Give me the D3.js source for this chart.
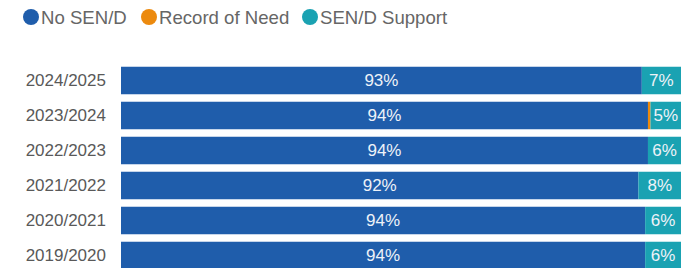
<!DOCTYPE html>
<html>
<head>
<meta charset="utf-8">
<script src="https://cdn.jsdelivr.net/npm/d3@7"></script>
<style>
  html, body { margin: 0; padding: 0; background: #fff; }
  svg { display: block; font-family: "Liberation Sans", Arial, sans-serif; }
</style>
</head>
<body>
<svg id="chart" width="682" height="268"></svg>
<script>
const years = ["2024/2025", "2023/2024", "2022/2023", "2021/2022", "2020/2021", "2019/2020"];
const noSEND = [93.0, 94.1, 94.1, 92.4, 93.6, 93.6];
const recordOfNeed = [0, 0.45, 0, 0, 0, 0];
const sendSupport = [7.0, 5.45, 5.9, 7.6, 6.4, 6.4];
const seriesNames = ["No SEN/D", "Record of Need", "SEN/D Support"];
const seriesColors = ["#1f5dab", "#ec8a0e", "#1aa2b2"];

const table = years.map((y, i) => ({
  year: y, "No SEN/D": noSEND[i], "Record of Need": recordOfNeed[i], "SEN/D Support": sendSupport[i]
}));

const svg = d3.select("#chart");
const W = 682;

const x = d3.scaleLinear().domain([0, 100]).range([121, 681]);
const y = d3.scaleBand().domain(years).range([63, 273]).paddingInner(0.214).paddingOuter(0.107);
const color = d3.scaleOrdinal().domain(seriesNames).range(seriesColors);

const stacked = d3.stack().keys(seriesNames)(table);

// Legend
const legendItems = [
  { name: "No SEN/D", cx: 31 },
  { name: "Record of Need", cx: 149 },
  { name: "SEN/D Support", cx: 310 }
];
const lg = svg.append("g");
legendItems.forEach(d => {
  lg.append("circle").attr("cx", d.cx).attr("cy", 17).attr("r", 8).attr("fill", color(d.name));
  lg.append("text").attr("x", d.cx + 10).attr("y", 17).attr("dy", "0.35em")
    .attr("font-size", "18.6px").attr("fill", "#666").text(d.name);
});

// Year axis labels
const yAxis = d3.axisLeft(y).tickSize(0).tickPadding(0);
const ya = svg.append("g").attr("transform", "translate(106,0)").call(yAxis);
ya.select(".domain").remove();
ya.selectAll("text").attr("font-size", "17px").attr("fill", "#595959")
  .attr("font-family", "'Liberation Sans', Arial, sans-serif");

// Bars
const groups = svg.append("g").selectAll("g").data(stacked).join("g")
  .attr("fill", d => color(d.key));
groups.selectAll("rect").data(d => d.map(v => ({ v, key: d.key }))).join("rect")
  .attr("x", d => x(d.v[0]))
  .attr("y", d => y(d.v.data.year))
  .attr("width", d => Math.max(0, x(d.v[1]) - x(d.v[0])))
  .attr("height", y.bandwidth());

// Labels
const labels = svg.append("g");
stacked.forEach(s => {
  s.forEach(v => {
    const val = v[1] - v[0];
    if (val < 3) return;
    labels.append("text")
      .attr("x", (x(v[0]) + x(v[1])) / 2)
      .attr("y", y(v.data.year) + y.bandwidth() / 2)
      .attr("dy", "0.35em")
      .attr("text-anchor", "middle")
      .attr("font-size", "17px")
      .attr("fill", "#eef2f8")
      .text(Math.round(val) + "%");
  });
});
</script>
</body>
</html>
